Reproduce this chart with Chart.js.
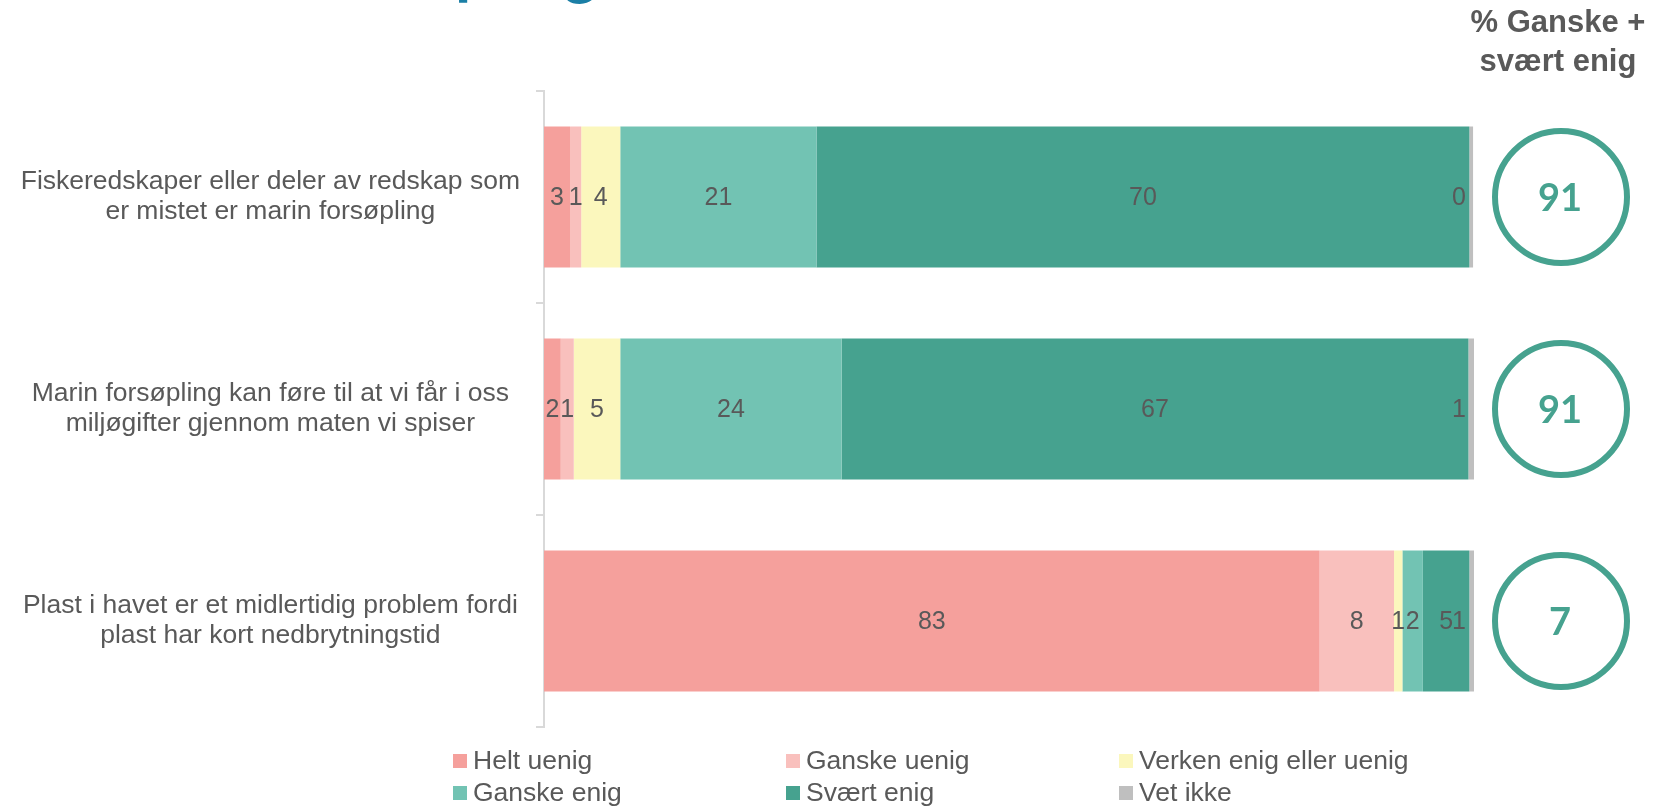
<!DOCTYPE html>
<html lang="no">
<head>
<meta charset="utf-8">
<title>Marin forsøpling</title>
<script src="https://cdn.jsdelivr.net/npm/chart.js@4.4.0/dist/chart.umd.min.js"></script>
<style>
  html, body { margin: 0; padding: 0; background: #fff; }
  #wrap { position: relative; width: 1662px; height: 808px; }
</style>
</head>
<body>
<div id="wrap"><canvas id="chart"></canvas></div>
<script>
// Påstander (kategorier på y-aksen)
const pastander = [
  ['Fiskeredskaper eller deler av redskap som', 'er mistet er marin forsøpling'],
  ['Marin forsøpling kan føre til at vi får i oss', 'miljøgifter gjennom maten vi spiser'],
  ['Plast i havet er et midlertidig problem fordi', 'plast har kort nedbrytningstid']
];
const svarNavn = ['Helt uenig', 'Ganske uenig', 'Verken enig eller uenig', 'Ganske enig', 'Svært enig', 'Vet ikke'];

// Andeler i prosent, lest av figuren
const heltUenig   = [2.8, 1.8, 83.4];
const ganskeUenig = [1.2, 1.4, 8.0];
const verken      = [4.2, 5.0, 0.9];
const ganskeEnig  = [21.1, 23.8, 2.2];
const svaertEnig  = [70.2, 67.4, 5.0];
const vetIkke     = [0.4, 0.6, 0.5];

const farger = ['#f5a09c', '#f9c0bd', '#fbf7bd', '#72c3b3', '#46a28f', '#bfbfbf'];
const FONT = "'Liberation Sans', Arial, sans-serif";
const TEAL = '#46a28f';
const GRAA = '#595959';

// Tall midt i hvert segment
const verdiEtiketter = {
  id: 'verdiEtiketter',
  afterDatasetsDraw(chart) {
    const ctx = chart.ctx;
    const right = chart.chartArea.right;
    ctx.save();
    ctx.font = '25px ' + FONT;
    ctx.fillStyle = GRAA;
    ctx.textBaseline = 'middle';
    ctx.textAlign = 'center';
    chart.data.datasets.forEach((ds, i) => {
      chart.getDatasetMeta(i).data.forEach((bar, j) => {
        const txt = String(Math.round(ds.data[j]));
        const w = ctx.measureText(txt).width;
        let x = (bar.x + bar.base) / 2;
        x = Math.min(x, right - 8 - w / 2);
        ctx.fillText(txt, x, bar.y + 1);
      });
    });
    ctx.restore();
  }
};

// Sirkler med % ganske + svært enig, overskrift, tittel og forklaring
const ekstra = {
  id: 'ekstra',
  afterDraw(chart) {
    const ctx = chart.ctx;
    const yScale = chart.scales.y;
    const cx = chart.chartArea.right + 87;
    ctx.save();

    // tittel (avkuttet i toppen)
    ctx.font = 'bold 66px Lato, sans-serif';
    ctx.fillStyle = '#1b7fa6';
    ctx.textAlign = 'left';
    ctx.textBaseline = 'alphabetic';
    const foran = ctx.measureText('Marin forsø').width;
    ctx.fillText('Marin forsøpling', 455 - foran, -9);

    // overskrift
    ctx.fillStyle = GRAA;
    ctx.font = 'bold 31px ' + FONT;
    ctx.textAlign = 'center';
    ctx.fillText('% Ganske +', cx - 3, 32);
    ctx.fillText('svært enig', cx - 3, 71);

    pastander.forEach((p, i) => {
      const cy = yScale.getPixelForValue(i);
      ctx.beginPath();
      ctx.arc(cx, cy, 66, 0, Math.PI * 2);
      ctx.lineWidth = 6;
      ctx.strokeStyle = TEAL;
      ctx.stroke();
      ctx.fillStyle = TEAL;
      ctx.font = 'bold 38px Lato, sans-serif';
      ctx.textBaseline = 'middle';
      ctx.fillText(String(Math.round(ganskeEnig[i] + svaertEnig[i])), cx - 1, cy + 2);
    });

    // forklaring, 3 kolonner x 2 rader
    const kolX = [453, 786, 1119];
    const radY = [761, 793];
    ctx.font = '26.5px ' + FONT;
    ctx.textAlign = 'left';
    ctx.textBaseline = 'middle';
    chart.data.datasets.forEach((ds, i) => {
      const x = kolX[i % 3];
      const y = radY[Math.floor(i / 3)];
      ctx.fillStyle = ds.backgroundColor;
      ctx.fillRect(x, y - 7, 14, 14);
      ctx.fillStyle = GRAA;
      ctx.fillText(ds.label, x + 20, y + 1);
    });
    ctx.restore();
  }
};

const serier = [heltUenig, ganskeUenig, verken, ganskeEnig, svaertEnig, vetIkke];

const ctx = document.getElementById('chart').getContext('2d');
const chart = new Chart(ctx, {
  type: 'bar',
  data: {
    labels: pastander,
    datasets: serier.map((d, i) => ({
      label: svarNavn[i],
      data: d,
      backgroundColor: farger[i],
      borderWidth: 0,
      barPercentage: 0.665,
      categoryPercentage: 1
    }))
  },
  options: {
    indexAxis: 'y',
    responsive: true,
    maintainAspectRatio: false,
    animation: false,
    layout: { padding: { left: 0, right: 188, top: 91, bottom: 81 } },
    scales: {
      x: { stacked: true, min: 0, max: 100, display: false },
      y: {
        stacked: true,
        grid: { drawOnChartArea: false, tickLength: 8, color: '#d9d9d9', lineWidth: 2, offset: true },
        border: { color: '#d9d9d9', width: 2 },
        ticks: {
          color: GRAA,
          font: { size: 26.5, family: FONT, lineHeight: 1.13 },
          crossAlign: 'center',
          padding: 16
        },
        afterFit(scale) { scale.width = 544; }
      }
    },
    plugins: {
      legend: { display: false },
      tooltip: { enabled: false }
    }
  },
  plugins: [verdiEtiketter, ekstra]
});
</script>
</body>
</html>
